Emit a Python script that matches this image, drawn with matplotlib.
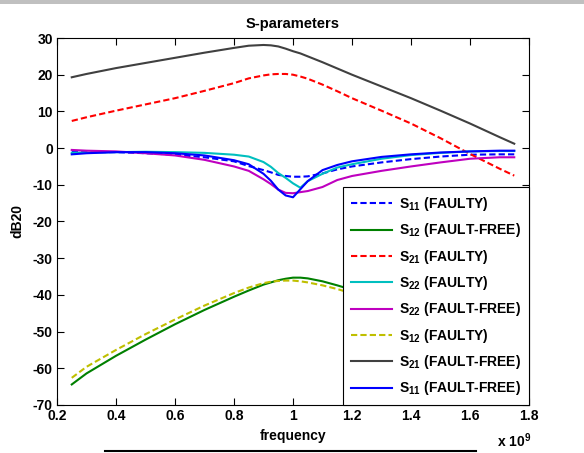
import matplotlib
matplotlib.use("Agg")
import matplotlib.pyplot as plt
from matplotlib.lines import Line2D
from matplotlib.patches import Rectangle

plt.rcParams['font.family'] = ['Liberation Sans', 'DejaVu Sans']
plt.rcParams['font.weight'] = 'bold'
plt.rcParams['axes.unicode_minus'] = False
plt.rcParams['mathtext.fontset'] = 'custom'
plt.rcParams['mathtext.rm'] = 'Liberation Sans:bold'
plt.rcParams['mathtext.it'] = 'Liberation Sans:bold'
plt.rcParams['mathtext.bf'] = 'Liberation Sans:bold'

# frequency (x 1e9)
freq = [0.25, 0.3, 0.4, 0.5, 0.6, 0.7, 0.8, 0.85, 0.9, 0.925, 0.95, 0.975, 1.0,
        1.025, 1.05, 1.1, 1.15, 1.2, 1.3, 1.4, 1.5, 1.6, 1.7, 1.75]

s11_faulty = [-1.1, -1.1, -1.1, -1.4, -1.8, -2.5, -3.6, -4.9, -6.0, -6.6, -7.3, -7.6, -7.8,
              -7.8, -7.7, -6.9, -5.8, -5.0, -3.9, -3.0, -2.3, -1.8, -1.7, -1.7]
s12_faultfree = [-64.4, -61.4, -56.6, -52.2, -48.0, -44.1, -40.5, -38.8, -37.2, -36.6, -36.0, -35.6, -35.3,
                 -35.3, -35.5, -36.3, -37.4, -38.6, -41.0, -43.6, -46.2, -48.8, -51.2, -52.3]
s21_faulty = [7.4, 8.4, 10.2, 11.9, 13.6, 15.6, 17.7, 19.0, 19.8, 20.1, 20.2, 20.2, 20.0,
              19.5, 18.9, 17.3, 15.5, 13.6, 10.2, 6.7, 2.7, -1.6, -5.6, -7.5]
s22_faulty = [-1.3, -1.2, -1.1, -1.0, -1.1, -1.3, -1.8, -2.3, -3.8, -5.1, -6.8, -8.1, -9.6,
              -10.8, -9.0, -7.0, -5.3, -4.4, -2.9, -1.9, -1.3, -0.9, -0.8, -0.8]
s22_faultfree = [-0.5, -0.7, -0.9, -1.4, -2.0, -3.2, -5.0, -6.2, -8.5, -9.8, -11.3, -12.2, -12.3,
                 -12.0, -11.7, -10.6, -8.7, -7.6, -6.2, -5.0, -3.9, -2.9, -2.5, -2.5]
s12_faulty = [-62.6, -59.6, -55.0, -50.7, -46.7, -42.9, -39.5, -38.0, -36.8, -36.4, -36.2, -36.1, -36.1,
              -36.3, -36.6, -37.4, -38.4, -39.6, -42.0, -44.6, -47.2, -49.8, -52.2, -53.3]
s21_faultfree = [19.3, 20.2, 21.8, 23.2, 24.6, 26.0, 27.3, 27.9, 28.1, 28.0, 27.7, 27.1, 26.4,
                 25.8, 25.0, 23.4, 21.7, 20.0, 16.8, 13.6, 10.2, 6.7, 3.0, 1.2]
s11_faultfree = [-1.7, -1.4, -1.1, -1.1, -1.4, -2.0, -3.3, -4.4, -7.0, -8.9, -11.3, -12.9, -13.4,
                 -11.2, -9.0, -6.0, -4.6, -3.6, -2.4, -1.7, -1.2, -0.9, -0.7, -0.7]

labels = ['S$_{11}$ (FAULTY)', 'S$_{12}$ (FAULT-FREE)', 'S$_{21}$ (FAULTY)',
          'S$_{22}$ (FAULTY)', 'S$_{22}$ (FAULT-FREE)', 'S$_{12}$ (FAULTY)',
          'S$_{21}$ (FAULT-FREE)', 'S$_{11}$ (FAULT-FREE)']
series = [s11_faulty, s12_faultfree, s21_faulty, s22_faulty, s22_faultfree,
          s12_faulty, s21_faultfree, s11_faultfree]
colors = ['#0000ff', '#008000', '#ff0000', '#00bfbf', '#bf00bf', '#bfbf00', '#404040', '#0000ff']
styles = [(0, (3, 1.5)), '-', (0, (3, 1.5)), '-', '-', (0, (3, 1.5)), '-', '-']

fig = plt.figure(figsize=(5.84, 4.53), dpi=100)
ax = fig.add_axes([57/584, 48/453, 472/584, 367/453])

for y, lab, c, ls in zip(series, labels, colors, styles):
    ax.plot(freq, y, color=c, linestyle=ls, linewidth=1.5, label=lab)

ax.set_xlim(0.2, 1.8)
ax.set_ylim(-70, 30)
ax.set_xticks([0.2, 0.4, 0.6, 0.8, 1.0, 1.2, 1.4, 1.6, 1.8])
ax.set_xticklabels(['0.2', '0.4', '0.6', '0.8', '1', '1.2', '1.4', '1.6', '1.8'])
ax.set_yticks(range(-70, 31, 10))
ax.tick_params(direction='in', top=True, right=True, labelsize=10, length=5, width=0.8, pad=3)
for lab in ax.get_xticklabels() + ax.get_yticklabels():
    lab.set_fontweight('bold')
for sp in ax.spines.values():
    sp.set_linewidth(0.8)

ax.set_title('S-parameters', fontsize=10.5, fontweight='bold', pad=7)
ax.set_xlabel('frequency', fontsize=10, fontweight='bold', labelpad=4)
ax.set_ylabel('dB20', fontsize=10, fontweight='bold', labelpad=6)
fig.text(497/584, 1 - 441/453, 'x 10$^9$', fontsize=10, fontweight='bold', va='center', ha='left')

leg = ax.legend(loc='lower right', bbox_to_anchor=(1, 0), borderaxespad=0, fontsize=10,
                frameon=True, fancybox=False, edgecolor='black', framealpha=1,
                handlelength=3.0, labelspacing=0.6, borderpad=0.55, handletextpad=0.5)
leg.get_frame().set_linewidth(0.8)

fig.patches.append(Rectangle((0, 1 - 4/453), 1, 4/453, transform=fig.transFigure,
                             facecolor='#c0c0c0', edgecolor='none'))
fig.lines.append(Line2D([105/584, 476/584], [1 - 451/453, 1 - 451/453],
                        transform=fig.transFigure, color='black', linewidth=1.5))

fig.savefig('out.png', dpi=100)
